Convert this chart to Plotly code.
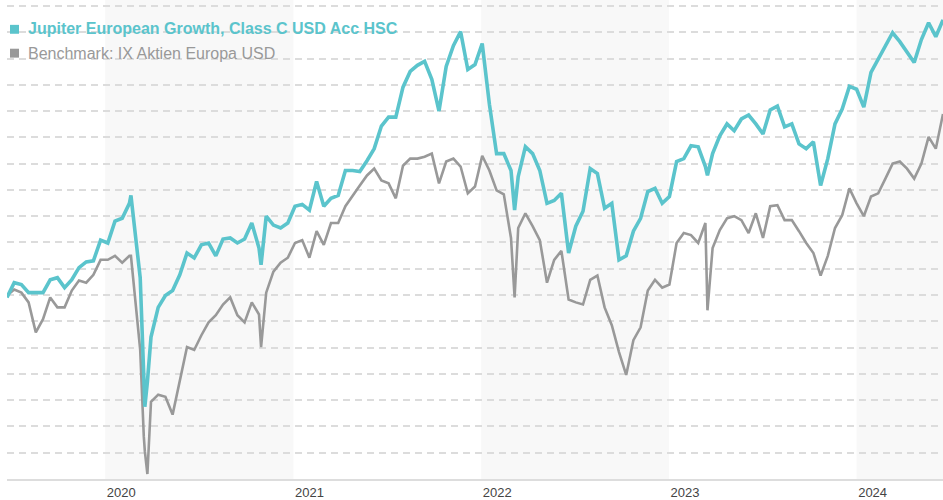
import pandas as pd
import plotly.graph_objects as go

# ---- data (index values, biweekly from 2019-06-24) ----
start_date = "2019-06-24"
n_points = 131
fund = [99.1, 104.7, 104.0, 100.9, 100.9, 100.9, 105.8, 106.6, 102.8, 105.8,
        110.4, 112.6, 113.0, 120.9, 119.8, 128.1, 129.2, 134.9, 119.1, 68.9,
        84.0, 95.3, 99.8, 101.7, 107.7, 116.0, 114.1, 119.1, 119.8, 114.9,
        121.3, 121.7, 119.8, 121.3, 127.4, 117.9, 130.0, 126.6, 125.5, 127.4,
        133.8, 134.5, 132.3, 143.2, 133.8, 136.8, 137.9, 147.4, 147.4, 147.0,
        151.1, 155.7, 164.3, 167.7, 167.7, 179.1, 185.1, 187.4, 188.9, 182.1,
        170.0, 187.0, 194.9, 200.2, 185.8, 187.7, 195.7, 172.6, 153.8, 153.8,
        147.4, 145.1, 156.4, 153.8, 147.4, 134.9, 136.0, 138.7, 116.0, 126.2,
        131.9, 148.1, 146.2, 133.0, 134.9, 113.4, 114.9, 124.3, 129.2, 139.4,
        140.6, 134.9, 137.5, 150.8, 151.9, 156.8, 156.4, 148.9, 153.8, 160.6,
        165.1, 162.5, 167.0, 168.5, 165.1, 161.3, 170.4, 171.9, 164.0, 165.1,
        157.5, 155.7, 158.3, 141.7, 151.9, 165.1, 170.8, 179.4, 178.3, 171.5,
        184.7, 189.6, 194.5, 199.8, 196.4, 192.6, 188.5, 197.2, 203.6, 198.3,
        204.7]
bench = [99.8, 102.1, 100.9, 97.2, 85.8, 90.8, 99.1, 95.3, 95.3, 101.7,
         105.5, 104.7, 107.7, 113.4, 113.4, 114.9, 112.3, 114.9, 94.2, 46.2,
         59.4, 62.1, 61.3, 54.5, 67.7, 80.2, 79.1, 84.7, 89.6, 92.3,
         96.4, 99.1, 92.3, 89.6, 97.2, 92.6, 100.9, 108.9, 112.3, 114.2,
         119.8, 120.9, 114.2, 124.3, 119.1, 127.4, 127.4, 133.8, 137.9, 141.7,
         145.5, 148.1, 143.6, 142.5, 136.8, 149.2, 151.9, 151.9, 152.6, 153.8,
         142.5, 150.8, 151.9, 148.9, 138.7, 141.3, 153.0, 147.4, 139.8, 138.3,
         121.7, 125.5, 131.1, 126.2, 120.9, 104.7, 113.4, 116.8, 98.3, 97.2,
         96.4, 105.8, 107.4, 95.3, 88.5, 78.3, 69.6, 82.8, 87.7, 101.7,
         105.8, 102.8, 104.0, 119.8, 123.6, 122.8, 119.8, 127.4, 117.9, 124.7,
         129.2, 130.0, 128.5, 123.6, 131.1, 121.7, 133.8, 134.2, 128.5, 128.5,
         124.3, 119.8, 116.0, 107.4, 114.9, 125.5, 130.4, 140.6, 134.9, 130.0,
         137.5, 138.7, 144.3, 150.0, 150.8, 148.1, 144.3, 150.0, 160.2, 155.7,
         168.9]

# extra readings at turning points between the biweekly dates
extra_dates = ["2020-02-20", "2020-03-09", "2020-03-18", "2020-03-23",
               "2020-10-30", "2022-03-07", "2023-03-17"]
extra_fund = [137.9, 106.6, 57.5, 67.0, 111.5, 132.3, 145.5]
extra_bench = [114.9, 79.1, 40.6, 31.9, 80.2, 99.1, 94.2]

years = ["2020", "2021", "2022", "2023", "2024"]
shaded_years = ["2020", "2022", "2024"]
fund_name = "Jupiter European Growth, Class C USD Acc HSC"
bench_name = "Benchmark: IX Aktien Europa USD"

# ---- build table ----
base = pd.DataFrame({"date": pd.date_range(start_date, periods=n_points, freq="14D"),
                     "fund": fund, "bench": bench})
extra = pd.DataFrame({"date": pd.to_datetime(extra_dates),
                      "fund": extra_fund, "bench": extra_bench})
df = pd.concat([base, extra]).sort_values("date").reset_index(drop=True)

TEAL = "#5bc4cc"
GREY = "#999999"
FONT = "Liberation Sans, Arial"

fig = go.Figure()
fig.add_trace(go.Scatter(x=df["date"], y=df["bench"], mode="lines",
                         line=dict(color=GREY, width=2.6), name=bench_name,
                         showlegend=False))
fig.add_trace(go.Scatter(x=df["date"], y=df["fund"], mode="lines",
                         line=dict(color=TEAL, width=3.6), name=fund_name,
                         showlegend=False))

x_end = base["date"].iloc[-1]
for y in shaded_years:
    x0 = pd.Timestamp(f"{y}-01-01")
    x1 = min(pd.Timestamp(f"{int(y) + 1}-01-01"), x_end)
    fig.add_shape(type="rect", xref="x", yref="paper", x0=x0, x1=x1, y0=0, y1=1,
                  fillcolor="#f8f8f8", line=dict(width=0), layer="below")

# legend made of squares + coloured text
fig.add_shape(type="rect", xref="paper", yref="paper", x0=0.0032, x1=0.0128,
              y0=0.9295, y1=0.9481, fillcolor=TEAL, line=dict(width=0))
fig.add_shape(type="rect", xref="paper", yref="paper", x0=0.0032, x1=0.0128,
              y0=0.8797, y1=0.8983, fillcolor=GREY, line=dict(width=0))
fig.add_annotation(xref="paper", yref="paper", x=0.020, y=0.940, xanchor="left",
                   yanchor="middle", showarrow=False, text=f"<b>{fund_name}</b>",
                   font=dict(family=FONT, size=16, color=TEAL))
fig.add_annotation(xref="paper", yref="paper", x=0.020, y=0.889, xanchor="left",
                   yanchor="middle", showarrow=False, text=bench_name,
                   font=dict(family=FONT, size=16, color=GREY))

fig.update_xaxes(range=[base["date"].iloc[0], x_end], showgrid=False,
                 tickvals=[f"{y}-01-01" for y in years], ticktext=years,
                 ticklabelshift=16, ticks="", showline=True, linecolor="#dddddd",
                 linewidth=2, zeroline=False,
                 tickfont=dict(family=FONT, size=13, color="#444444"))
fig.update_yaxes(range=[30, 212.26], tick0=0, dtick=10, showticklabels=False,
                 showgrid=True, gridcolor="#dcdcdc", gridwidth=1.5, griddash="7px,5px",
                 zeroline=False, ticks="")

fig.update_layout(width=943, height=500, autosize=False,
                  margin=dict(l=7, r=0, t=0, b=18),
                  paper_bgcolor="white", plot_bgcolor="white",
                  hovermode="x unified")

fig.write_html("out.html")
